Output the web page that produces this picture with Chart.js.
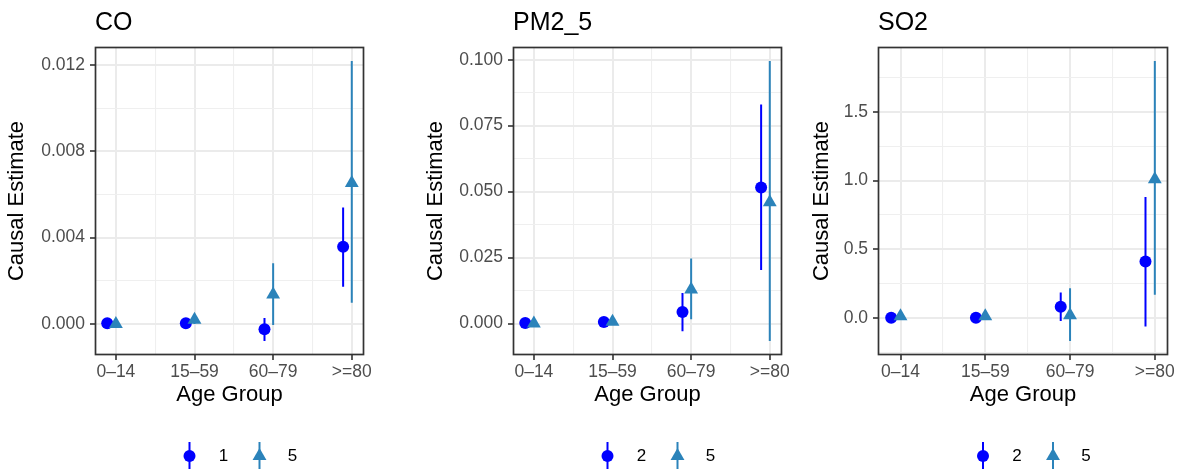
<!DOCTYPE html>
<html>
<head>
<meta charset="utf-8">
<script src="https://cdn.jsdelivr.net/npm/chart.js@4.4.1/dist/chart.umd.min.js"></script>
<style>
  body { margin: 0; background: #fff; width: 1179px; height: 469px; overflow: hidden; position: relative; }
  canvas { position: absolute; top: 0; }
</style>
</head>
<body>
<canvas id="co" width="400" height="469" style="left:0px"></canvas>
<canvas id="pm" width="400" height="469" style="left:419px"></canvas>
<canvas id="so" width="374" height="469" style="left:805px"></canvas>
<script>
const ageGroups = ['0–14', '15–59', '60–79', '>=80'];
const dodge = 0.11;

// CO panel, series "1" (circles) and "5" (triangles)
const coNames = ['1', '5'];
const coEstA  = [0.00003, 0.00003, -0.00024, 0.00358];
const coLowA  = [-0.00003, -0.00002, -0.00079, 0.00172];
const coHighA = [0.00009, 0.00008, 0.00028, 0.0054];
const coEstB  = [0.0, 0.0002, 0.00136, 0.00653];
const coLowB  = [-0.0001, 0.0, -0.00005, 0.00098];
const coHighB = [0.0001, 0.0004, 0.00282, 0.01219];
const coTicks = [0, 0.004, 0.008, 0.012];
const coMinor = [0.002, 0.006, 0.010];

// PM2_5 panel
const pmNames = ['2', '5'];
const pmEstA  = [0.0002, 0.0006, 0.0044, 0.0516];
const pmLowA  = [-0.0002, 0.0002, -0.0029, 0.0203];
const pmHighA = [0.0006, 0.001, 0.0116, 0.083];
const pmEstB  = [0.0, 0.0007, 0.0129, 0.046];
const pmLowB  = [-0.0004, 0.0003, 0.0016, -0.0066];
const pmHighB = [0.0004, 0.0011, 0.0247, 0.0995];
const pmTicks = [0, 0.025, 0.05, 0.075, 0.1];
const pmMinor = [0.0125, 0.0375, 0.0625, 0.0875];

// SO2 panel
const soNames = ['2', '5'];
const soEstA  = [0.002, 0.002, 0.082, 0.411];
const soLowA  = [-0.004, -0.004, -0.022, -0.063];
const soHighA = [0.008, 0.008, 0.185, 0.881];
const soEstB  = [0.012, 0.012, 0.02, 1.01];
const soLowB  = [0.0, 0.0, -0.168, 0.168];
const soHighB = [0.024, 0.024, 0.217, 1.871];
const soTicks = [0, 0.5, 1.0, 1.5];
const soMinor = [-0.25, 0.25, 0.75, 1.25, 1.75];

const colA = '#0000FF';
const colB = '#2B83BA';
const fontFam = "'Liberation Sans', Arial, sans-serif";
Chart.defaults.font.family = fontFam;

const panelBorder = {
  id: 'panelBorder',
  afterDatasetsDraw(chart) {
    const a = chart.chartArea;
    const c = chart.ctx;
    c.save();
    c.strokeStyle = '#333333';
    c.lineWidth = 1.7;
    c.strokeRect(Math.round(a.left) + 0.5, Math.round(a.top) + 0.5,
                 Math.round(a.right - a.left) - 1, Math.round(a.bottom - a.top) - 1);
    c.restore();
  }
};

const ggLegend = {
  id: 'ggLegend',
  afterDraw(chart, args, opts) {
    const a = chart.chartArea;
    const c = chart.ctx;
    const cx = (a.left + a.right) / 2 + 11;
    const y = 456;
    c.save();
    c.lineWidth = 2;
    // circle key
    c.strokeStyle = colA;
    c.beginPath(); c.moveTo(cx - 51, 442); c.lineTo(cx - 51, 469); c.stroke();
    c.fillStyle = colA;
    c.beginPath(); c.arc(cx - 51, y, 6, 0, Math.PI * 2); c.fill();
    // triangle key
    c.strokeStyle = colB;
    c.beginPath(); c.moveTo(cx + 19, 442); c.lineTo(cx + 19, 469); c.stroke();
    c.fillStyle = colB;
    const r = 8;
    c.beginPath();
    c.moveTo(cx + 19, y - r);
    c.lineTo(cx + 19 + r * 0.866, y + r / 2);
    c.lineTo(cx + 19 - r * 0.866, y + r / 2);
    c.closePath(); c.fill();
    c.fillStyle = '#000';
    c.font = '17px ' + fontFam;
    c.textAlign = 'center';
    c.textBaseline = 'middle';
    c.fillText(opts.names[0], cx - 17, y);
    c.fillText(opts.names[1], cx + 52, y);
    c.restore();
  }
};

function errSegments(est, low, high, off) {
  const out = [];
  est.forEach((v, i) => {
    out.push({x: i + off, y: low[i]}, {x: i + off, y: high[i]}, {x: i + off, y: null});
  });
  return out;
}

function makePanel(id, title, names, estA, lowA, highA, estB, lowB, highB, major, minor, dec, yWidth, padRight) {
  const lo = Math.min(...lowA, ...lowB);
  const hi = Math.max(...highA, ...highB);
  const yPad = (hi - lo) * 0.05;
  const xSpan = 3 + dodge;
  const xMajor = [0, 1, 2, 3];
  const xGrid = [0, 0.5, 1, 1.5, 2, 2.5, 3];
  const yGrid = [...major, ...minor].sort((p, q) => p - q);
  const isMajorY = v => major.some(m => Math.abs(m - v) < 1e-9);
  const isMajorX = v => xMajor.includes(v);

  new Chart(document.getElementById(id), {
    type: 'scatter',
    data: {
      datasets: [
        { data: errSegments(estA, lowA, highA, -dodge), showLine: true, spanGaps: false,
          borderColor: colA, borderWidth: 2, pointRadius: 0, order: 4 },
        { data: estA.map((v, i) => ({x: i - dodge, y: v})), pointStyle: 'circle',
          pointRadius: 6, backgroundColor: colA, borderWidth: 0, order: 3 },
        { data: errSegments(estB, lowB, highB, 0), showLine: true, spanGaps: false,
          borderColor: colB, borderWidth: 2, pointRadius: 0, order: 2 },
        { data: estB.map((v, i) => ({x: i, y: v})), pointStyle: 'triangle',
          pointRadius: 8, backgroundColor: colB, borderWidth: 0, order: 1 }
      ]
    },
    options: {
      responsive: false,
      animation: false,
      layout: { padding: { top: 0, left: 0, right: padRight, bottom: 57 } },
      scales: {
        x: {
          type: 'linear',
          min: -dodge - 0.05 * xSpan,
          max: 3 + 0.05 * xSpan,
          afterBuildTicks: s => { s.ticks = xGrid.map(v => ({value: v})); },
          afterFit: s => { s.height = 57; },
          border: { display: false },
          grid: {
            color: c => (c.tick && isMajorX(c.tick.value)) ? '#EBEBEB' : '#EFEFEF',
            lineWidth: c => (c.tick && isMajorX(c.tick.value)) ? 2 : 1.1,
            tickColor: c => (c.tick && isMajorX(c.tick.value)) ? '#333333' : 'rgba(0,0,0,0)',
            tickLength: 5,
            tickWidth: 1.6
          },
          ticks: {
            autoSkip: false, maxRotation: 0, padding: 2,
            color: '#4D4D4D', font: { size: 17.5 },
            callback: v => isMajorX(v) ? ageGroups[v] : ''
          },
          title: { display: true, text: 'Age Group', color: '#000', font: { size: 22 },
                   padding: { top: 0, bottom: 4 } }
        },
        y: {
          min: lo - yPad,
          max: hi + yPad,
          afterBuildTicks: s => { s.ticks = yGrid.map(v => ({value: v})); },
          afterFit: s => { s.width = yWidth; },
          border: { display: false },
          grid: {
            color: c => (c.tick && isMajorY(c.tick.value)) ? '#EBEBEB' : '#EFEFEF',
            lineWidth: c => (c.tick && isMajorY(c.tick.value)) ? 2 : 1.1,
            tickColor: c => (c.tick && isMajorY(c.tick.value)) ? '#333333' : 'rgba(0,0,0,0)',
            tickLength: 5,
            tickWidth: 1.6
          },
          ticks: {
            autoSkip: false, padding: 5,
            color: '#4D4D4D', font: { size: 17.5 },
            callback: v => isMajorY(v) ? v.toFixed(dec) : ''
          },
          title: { display: true, text: 'Causal Estimate', color: '#000', font: { size: 22 },
                   padding: { top: 4, bottom: 4 } }
        }
      },
      plugins: {
        legend: { display: false },
        tooltip: { enabled: false },
        title: {
          display: true, text: title, align: 'start', fullSize: false,
          color: '#000', font: { size: 25, weight: 'normal' },
          padding: { top: 8.5, bottom: 8.5 }
        },
        ggLegend: { names: names }
      }
    },
    plugins: [panelBorder, ggLegend]
  });
}

makePanel('co', 'CO', coNames, coEstA, coLowA, coHighA, coEstB, coLowB, coHighB, coTicks, coMinor, 3, 95, 36);
makePanel('pm', 'PM2_5', pmNames, pmEstA, pmLowA, pmHighA, pmEstB, pmLowB, pmHighB, pmTicks, pmMinor, 3, 94, 37);
makePanel('so', 'SO2', soNames, soEstA, soLowA, soHighA, soEstB, soLowB, soHighB, soTicks, soMinor, 1, 73, 11);
</script>
</body>
</html>
